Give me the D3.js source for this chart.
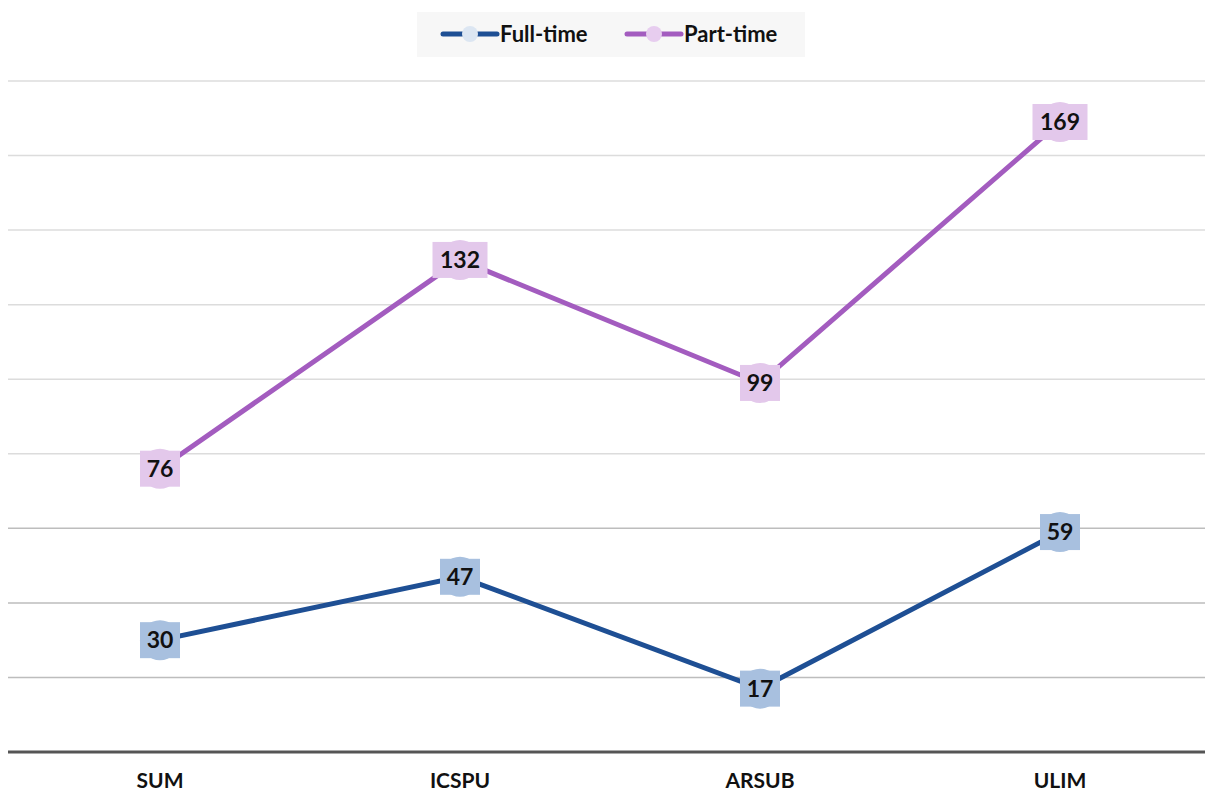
<!DOCTYPE html>
<html>
<head>
<meta charset="utf-8">
<script src="https://cdn.jsdelivr.net/npm/d3@7"></script>
<style>
  body { margin: 0; background: #fff; }
</style>
</head>
<body>
<script>
const categories = ['SUM', 'ICSPU', 'ARSUB', 'ULIM']
const fullTime = [30, 47, 17, 59]
const partTime = [76, 132, 99, 169]
const gridTicks = [20, 40, 60, 80, 100, 120, 140, 160, 180]

const W = 1205, H = 794
const svgEl = d3.create('svg')
  .attr('width', W)
  .attr('height', H)
  .style('font-family', 'Lato, "Open Sans", sans-serif')

const x = d3.scaleBand().domain(categories).range([10, 1210])
const y = d3.scaleLinear().domain([0, 180]).range([752, 81])

const series = [
  { name: 'Full-time', values: fullTime, line: '#1e4f94', box: '#a8c0df', dot: '#dce6f2' },
  { name: 'Part-time', values: partTime, line: '#a35cbf', box: '#e3c8eb', dot: '#e7cdef' },
]

// gridlines
svgEl.append('g')
  .selectAll('line')
  .data(gridTicks)
  .join('line')
  .attr('x1', 8).attr('x2', W)
  .attr('y1', d => y(d)).attr('y2', d => y(d))
  .attr('stroke', d => d <= 60 ? '#bdbdbd' : '#dcdcdc')
  .attr('stroke-width', 1.5)

// baseline
svgEl.append('line')
  .attr('x1', 8).attr('x2', W)
  .attr('y1', y(0)).attr('y2', y(0))
  .attr('stroke', '#555')
  .attr('stroke-width', 3)

// category labels
svgEl.append('g')
  .selectAll('text')
  .data(categories)
  .join('text')
  .attr('x', d => x(d) + x.bandwidth() / 2)
  .attr('y', 788)
  .attr('text-anchor', 'middle')
  .attr('font-size', 21)
  .attr('font-weight', 'bold')
  .attr('fill', '#111')
  .text(d => d)

const line = d3.line()
  .x((d, i) => x(categories[i]) + x.bandwidth() / 2)
  .y(d => y(d))

series.forEach(s => {
  svgEl.append('path')
    .attr('d', line(s.values))
    .attr('fill', 'none')
    .attr('stroke', s.line)
    .attr('stroke-width', 5)

  const g = svgEl.append('g')
    .selectAll('g')
    .data(s.values)
    .join('g')
    .attr('transform', (d, i) => `translate(${x(categories[i]) + x.bandwidth() / 2}, ${y(d)})`)

  g.append('circle')
    .attr('r', 20)
    .attr('fill', s.box)

  g.append('rect')
    .attr('x', d => -(String(d).length * 15 + 10) / 2)
    .attr('y', -18)
    .attr('width', d => String(d).length * 15 + 10)
    .attr('height', 36)
    .attr('fill', s.box)

  g.append('text')
    .attr('text-anchor', 'middle')
    .attr('dy', 8)
    .attr('font-size', 23)
    .attr('font-weight', 'bold')
    .attr('fill', '#111')
    .text(d => d)
})

// legend
const legend = svgEl.append('g')
legend.append('rect')
  .attr('x', 417).attr('y', 12)
  .attr('width', 388).attr('height', 45)
  .attr('fill', '#f7f7f7')

const legendX = [443, 627]
series.forEach((s, i) => {
  const lg = legend.append('g').attr('transform', `translate(${legendX[i]}, 34)`)
  lg.append('line')
    .attr('x1', 0).attr('x2', 54)
    .attr('stroke', s.line)
    .attr('stroke-width', 5)
    .attr('stroke-linecap', 'round')
  lg.append('circle')
    .attr('cx', 27).attr('r', 8)
    .attr('fill', s.dot)
  lg.append('text')
    .attr('x', 57)
    .attr('dy', 8)
    .attr('font-size', 22)
    .attr('font-weight', 'bold')
    .attr('fill', '#111')
    .text(s.name)
})

document.body.appendChild(svgEl.node())
</script>
</body>
</html>
